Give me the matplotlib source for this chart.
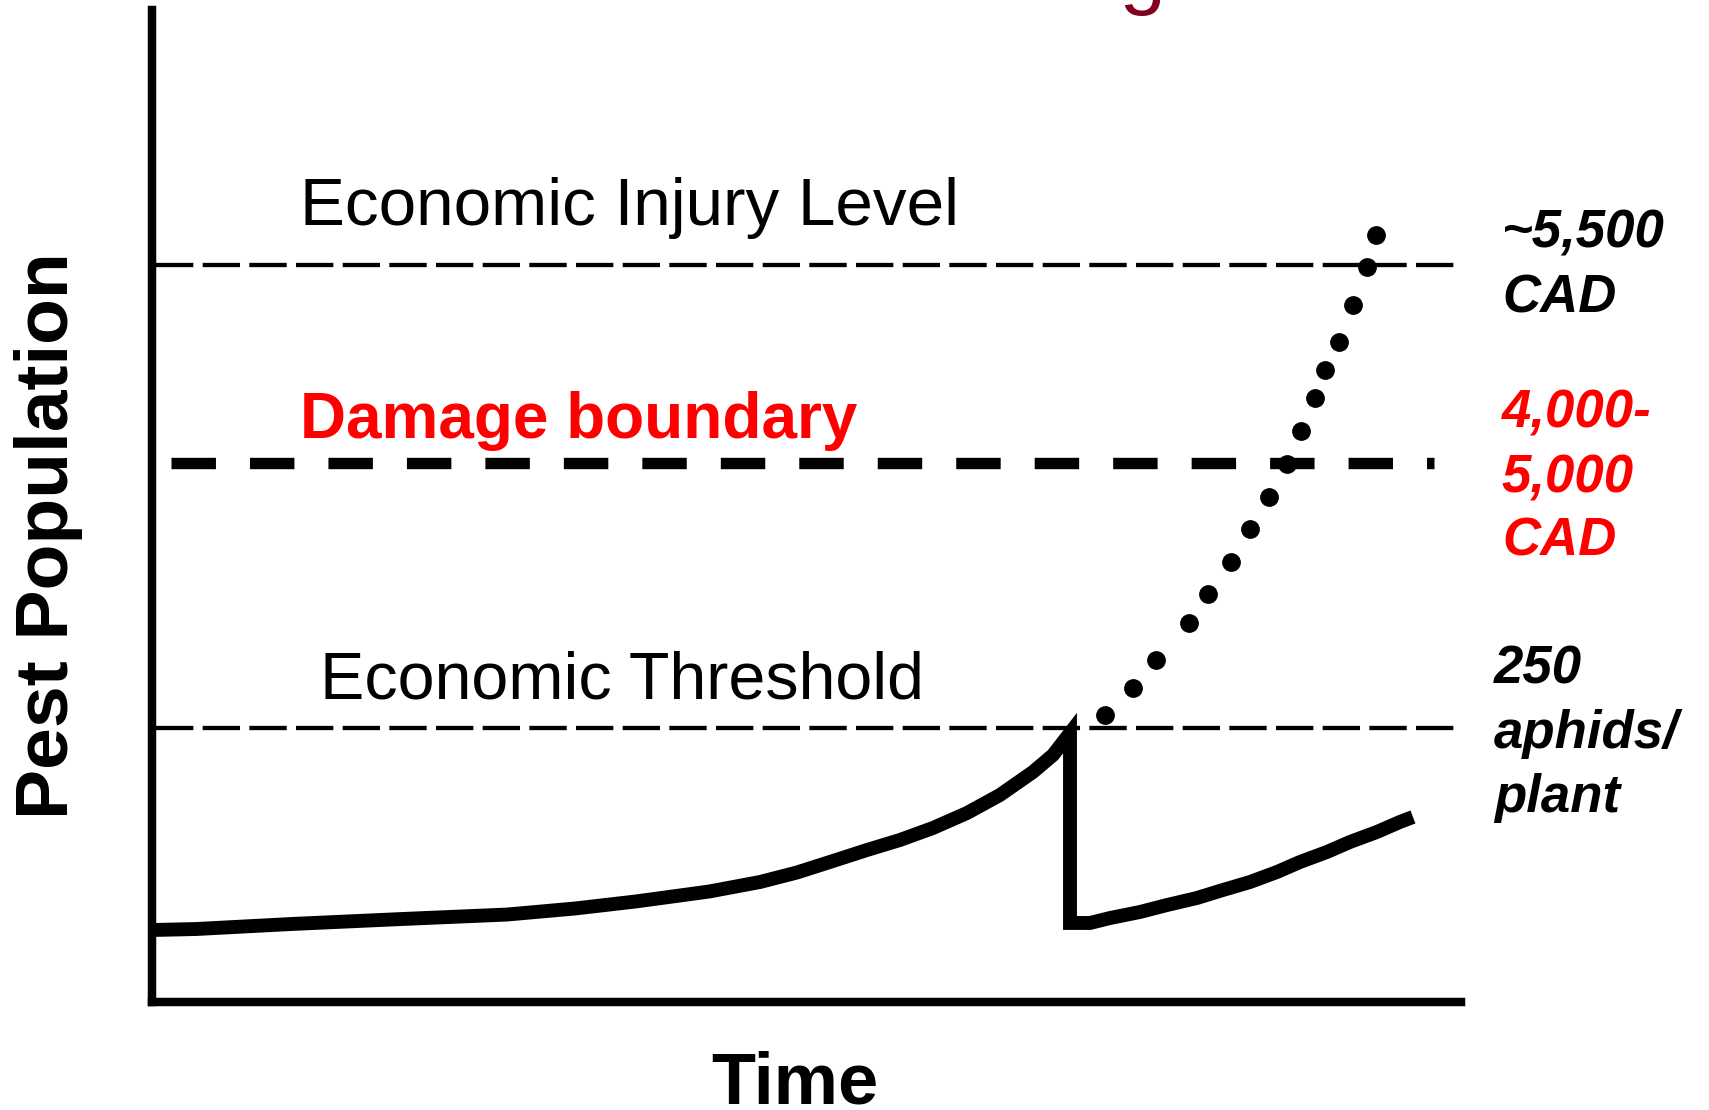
import matplotlib
matplotlib.use('Agg')
import matplotlib.pyplot as plt
from matplotlib import font_manager

# pest population before spray (time, population), arbitrary units 0-100
time_before = [0, 3.36, 10.70, 19.10, 27.12, 32.31, 36.97, 42.55, 46.44, 49.27,
               52.02, 54.62, 57.14, 59.66, 62.26, 64.78, 67.30, 68.83, 70.13]
pop_before = [7.21, 7.31, 7.82, 8.32, 8.77, 9.38, 10.09, 11.09, 12.05, 13.01,
              14.17, 15.28, 16.29, 17.50, 19.01, 20.83, 23.15, 24.86, 27.07]

# after control the population drops and builds up again
time_after = [70.13, 71.66, 73.19, 75.48, 77.54, 79.83, 81.82, 83.88, 85.94,
              87.70, 89.76, 91.52, 93.58, 95.34, 96.33]
pop_after = [7.92, 7.92, 8.42, 9.03, 9.73, 10.44, 11.25, 12.05, 13.06,
             14.07, 15.08, 16.09, 17.10, 18.11, 18.61]

# without control (dotted)
time_nocontrol = [72.80, 74.94, 76.70, 79.22, 80.67, 82.43, 83.88, 85.33,
                  86.71, 87.78, 88.85, 89.61, 90.68, 91.75, 92.82, 93.51]
pop_nocontrol = [28.90, 31.62, 34.44, 38.17, 41.10, 44.33, 47.65, 50.88,
                 54.21, 57.54, 60.87, 63.69, 66.52, 70.25, 74.08, 77.31]

# levels
level_names = ['Economic Injury Level', 'Damage boundary', 'Economic Threshold']
level_values = [74.28, 54.31, 27.58]
level_notes = [['~5,500', 'CAD'], ['4,000-', '5,000', 'CAD'], ['250', 'aphids/', 'plant']]

plt.rcParams['lines.scale_dashes'] = False
names = {f.name for f in font_manager.fontManager.ttflist}
narrow = 'Liberation Sans Narrow' in names

fig = plt.figure(figsize=(17.09, 11.10), dpi=100)
ax = fig.add_axes([152 / 1709, 1 - 1001.5 / 1110, 1309 / 1709, 991.5 / 1110])
ax.set_xlim(0, 100)
ax.set_ylim(0, 100)
ax.set_xticks([])
ax.set_yticks([])
ax.spines['top'].set_visible(False)
ax.spines['right'].set_visible(False)
for s in ['left', 'bottom']:
    ax.spines[s].set_linewidth(6.1)
    ax.spines[s].set_capstyle('projecting')

# threshold lines
ax.axhline(level_values[0], xmin=0.003, xmax=0.999, color='black', lw=3.1,
           ls=(0, (26.9, 6.7)))
ax.axhline(level_values[2], xmin=0.003, xmax=0.999, color='black', lw=3.1,
           ls=(0, (26.9, 6.7)))
ax.axhline(level_values[1], xmin=0.0145, xmax=0.979, color='black', lw=8.2,
           ls=(0, (32, 24.5)))

# population curve
ax.plot(time_before + time_after, pop_before + pop_after, color='black', lw=10,
        solid_joinstyle='miter', solid_capstyle='butt')
ax.plot(time_nocontrol, pop_nocontrol, 'o', color='black', ms=12.5)

sans = ['Liberation Sans', 'DejaVu Sans']
ax.text(11.27, 78.32, level_names[0], fontsize=48.5, family=sans, va='baseline')
ax.text(11.31, 56.83, level_names[1], fontsize=46, family=sans,
        weight='bold', color='red', va='baseline')
ax.text(12.83, 30.61, level_names[2], fontsize=47.8, family=sans, va='baseline')

# notes on the right side
note_x = [103.13, 103.13, 102.52]
note_y = [[76.0, 69.54], [57.85, 51.29, 45.03], [32.12, 25.57, 19.11]]
note_col = ['black', 'red', 'black']
for lines, xs, ys, c in zip(level_notes, note_x, note_y, note_col):
    for t, y in zip(lines, ys):
        ax.text(xs, y, t, fontsize=38, family=sans, weight='bold',
                style='italic', color=c, va='baseline')

# axis labels
fig.text(795 / 1709, 1 - 1103 / 1110, 'Time', fontsize=52, family=sans,
         weight='bold', ha='center', va='baseline')
if narrow:
    fig.text(49 / 1709, 1 - 535.7 / 1110, 'Pest Population', fontsize=62,
             family=['Liberation Sans Narrow'] + sans, weight='bold',
             rotation=90, ha='center', va='center')
else:
    fig.text(49 / 1709, 1 - 535.7 / 1110, 'Pest Population', fontsize=54,
             family=sans, weight='bold', rotation=90, ha='center', va='center')

# title is cut off at the top of the slide, only the descender shows
fig.text(1166 / 1709, 1 + 1.5 / 1110, 'Decision Making', fontsize=60,
         family=sans, color='#800020', ha='right', va='baseline')

fig.savefig('out.png', dpi=100)
